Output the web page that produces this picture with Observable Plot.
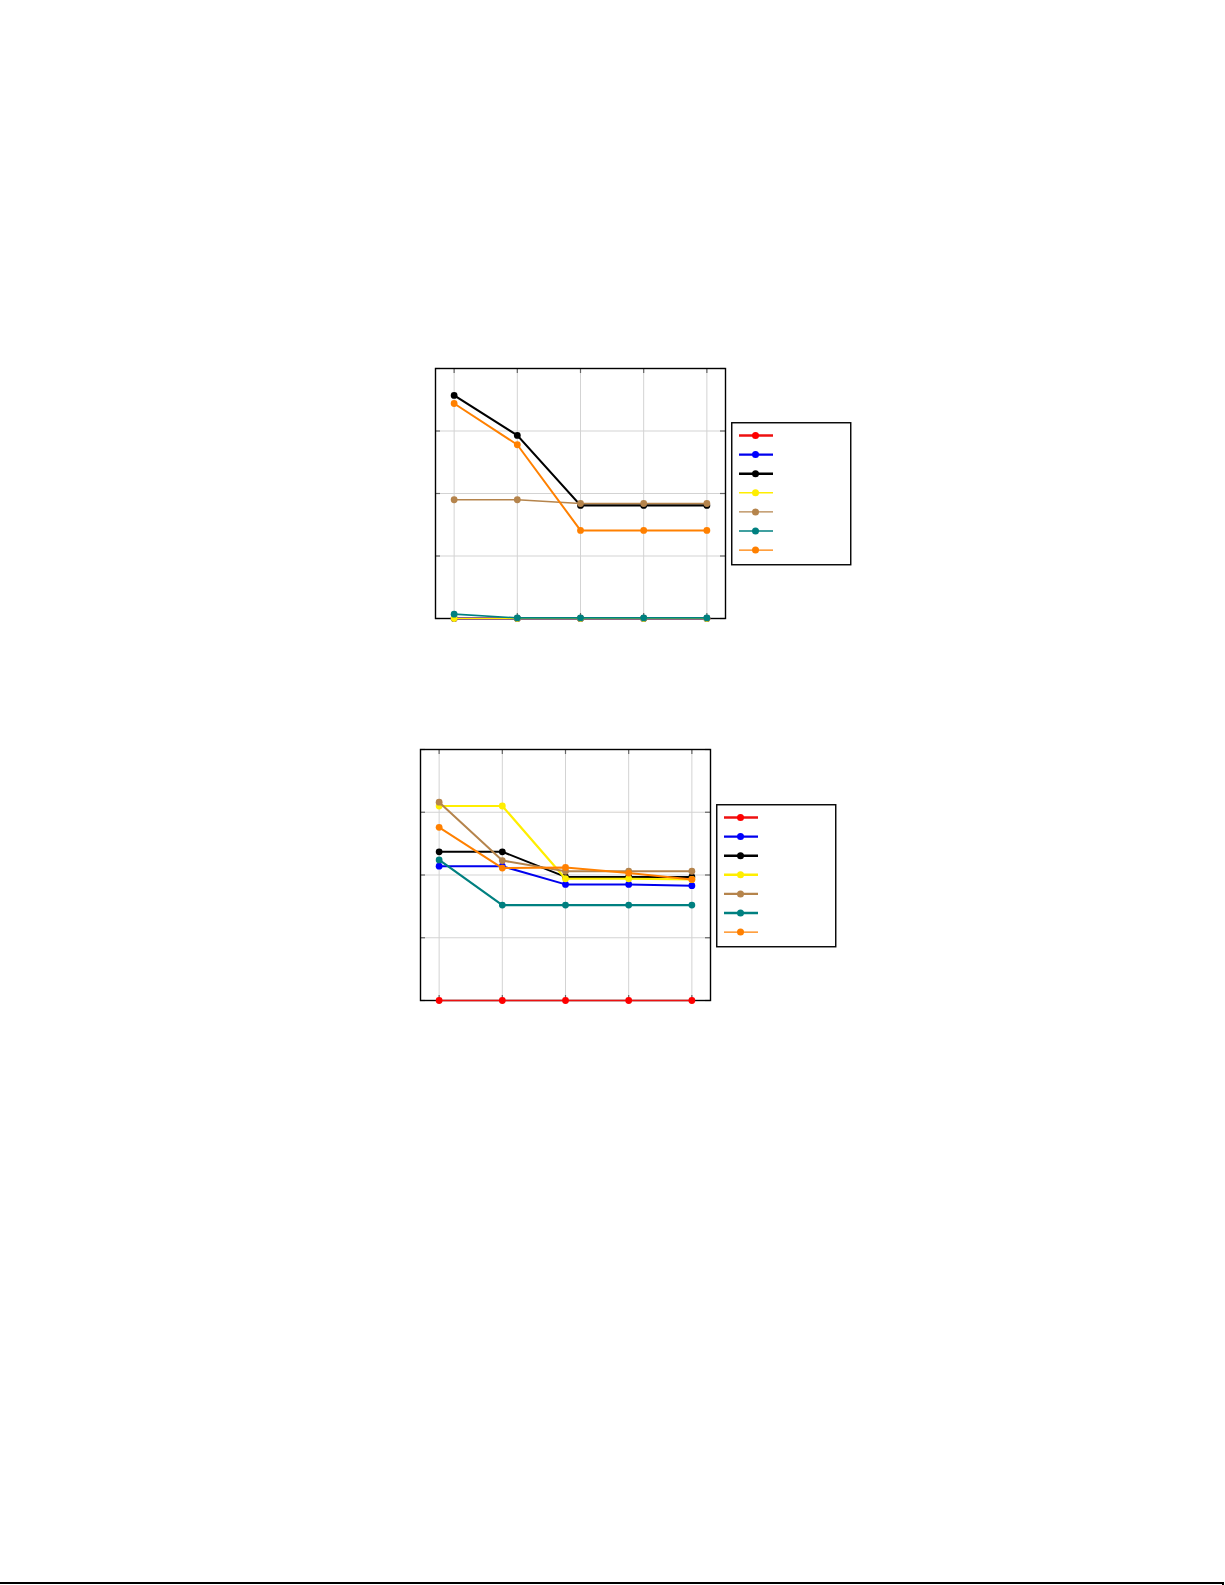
<!DOCTYPE html>
<html>
<head>
<meta charset="utf-8">
<script src="https://cdn.jsdelivr.net/npm/d3@7"></script>
<script src="https://cdn.jsdelivr.net/npm/@observablehq/plot@0.6"></script>
<style>
  html, body { margin: 0; padding: 0; background: #fff; }
  #page { position: relative; width: 1225px; height: 1585px; overflow: hidden; font-family: "DejaVu Sans", sans-serif; }
  .chart { position: absolute; }
  .legend { position: absolute; }
  #rule { position: absolute; left: 0; top: 1582px; width: 1224px; height: 0; border-top: 2px solid #000; }
  #rule2 { position: absolute; left: 1222px; top: 1582px; width: 0; height: 4px; border-left: 2px solid #000; }
</style>
</head>
<body>
<div id="page">
  <div id="c1" class="chart" style="left:429px; top:362px;"></div>
  <div id="l1" class="legend" style="left:731px; top:422px;"></div>
  <div id="c2" class="chart" style="left:414px; top:743px;"></div>
  <div id="l2" class="legend" style="left:716px; top:804px;"></div>
  <div id="rule"></div>
  <div id="rule2"></div>
</div>
<script>
// ---- data ----
const xValues = [1, 2, 3, 4, 5];
const xTicks = [1, 2, 3, 4, 5];
const yTicks = [0, 1, 2, 3, 4];
const seriesNames = ["s1", "s2", "s3", "s4", "s5", "s6", "s7"];
const markerColors = ["#ff0000", "#0000ff", "#000000", "#ffee00", "#b5844c", "#008080", "#ff8000"];
const lineColors   = ["#ee1010", "#0000ee", "#000000", "#ffee00", "#b5844c", "#008080", "#ff8000"];

// chart 1 (top)
const c1_s1 = [0, 0, 0, 0, 0];
const c1_s2 = [0, 0, 0, 0, 0];
const c1_s3 = [3.57, 2.93, 1.81, 1.81, 1.81];
const c1_s4 = [0.0, 0.0, 0.0, 0.0, 0.0];
const c1_s5 = [1.90, 1.90, 1.84, 1.84, 1.84];
const c1_s6 = [0.07, 0.01, 0.01, 0.01, 0.01];
const c1_s7 = [3.44, 2.78, 1.41, 1.41, 1.41];
const c1Widths = [2.2, 2.2, 2.2, 1.6, 1.6, 1.6, 2.0];
const c1LegendWidths = [2.4, 2.4, 2.4, 1.4, 1.4, 1.4, 1.4];

// chart 2 (bottom)
const c2_s1 = [0, 0, 0, 0, 0];
const c2_s2 = [2.14, 2.14, 1.85, 1.85, 1.83];
const c2_s3 = [2.37, 2.37, 1.97, 1.97, 1.97];
const c2_s4 = [3.10, 3.10, 1.94, 1.94, 1.93];
const c2_s5 = [3.16, 2.23, 2.06, 2.06, 2.06];
const c2_s6 = [2.24, 1.52, 1.52, 1.52, 1.52];
const c2_s7 = [2.76, 2.11, 2.12, 2.03, 1.93];
const c2Widths = [1.5, 2.0, 2.0, 2.2, 2.0, 2.2, 2.0];
const c2LegendWidths = [2.4, 2.4, 2.4, 2.4, 2.4, 2.4, 1.4];

function makeChart(seriesList, widths, innerW, innerH) {
  const m = 6;
  const marks = [
    Plot.gridX(xTicks, {stroke: "#d3d3d3", strokeOpacity: 1, strokeWidth: 1}),
    Plot.gridY(yTicks, {stroke: "#d3d3d3", strokeOpacity: 1, strokeWidth: 1}),
    Plot.tickY(yTicks, {y: d => d, insetRight: innerW - 5, stroke: "#666", strokeWidth: 1.2}),
    Plot.tickY(yTicks, {y: d => d, insetLeft: innerW - 5, stroke: "#666", strokeWidth: 1.2}),
    Plot.tickX(xTicks, {x: d => d, insetBottom: innerH - 5, stroke: "#666", strokeWidth: 1.2}),
    Plot.tickX(xTicks, {x: d => d, insetTop: innerH - 5, stroke: "#666", strokeWidth: 1.2}),
    Plot.frame({stroke: "#000", strokeWidth: 1.4})
  ];
  seriesList.forEach((vals, i) => {
    const rows = xValues.map((x, j) => ({series: seriesNames[i], x, y: vals[j]}));
    marks.push(Plot.line(rows, {x: "x", y: "y", stroke: lineColors[i], strokeWidth: widths[i]}));
    marks.push(Plot.dot(rows, {x: "x", y: "y", r: 3.4, fill: markerColors[i], stroke: "none"}));
  });
  return Plot.plot({
    width: innerW + 2 * m,
    height: innerH + 2 * m,
    margin: m,
    x: {domain: [0.705, 5.295], axis: null},
    y: {domain: [0, 4], axis: null},
    style: {background: "transparent", overflow: "visible"},
    marks
  });
}

function makeLegend(widths) {
  const w = 119, h = 142;
  const svg = d3.create("svg").attr("width", w + 2).attr("height", h + 2);
  svg.append("rect").attr("x", 0.75).attr("y", 0.75).attr("width", w).attr("height", h)
    .attr("fill", "#fff").attr("stroke", "#000").attr("stroke-width", 1.4);
  seriesNames.forEach((name, i) => {
    const y = 13.5 + i * 19.1;
    svg.append("line").attr("x1", 8).attr("x2", 42).attr("y1", y).attr("y2", y)
      .attr("stroke", lineColors[i]).attr("stroke-width", widths[i]);
    svg.append("circle").attr("cx", 24.5).attr("cy", y).attr("r", 3.5).attr("fill", markerColors[i]);
  });
  return svg.node();
}

document.getElementById("c1").appendChild(
  makeChart([c1_s1, c1_s2, c1_s3, c1_s4, c1_s5, c1_s6, c1_s7], c1Widths, 290, 250));
document.getElementById("c2").appendChild(
  makeChart([c2_s1, c2_s2, c2_s3, c2_s4, c2_s5, c2_s6, c2_s7], c2Widths, 290, 251));
document.getElementById("l1").appendChild(makeLegend(c1LegendWidths));
document.getElementById("l2").appendChild(makeLegend(c2LegendWidths));
</script>
</body>
</html>
